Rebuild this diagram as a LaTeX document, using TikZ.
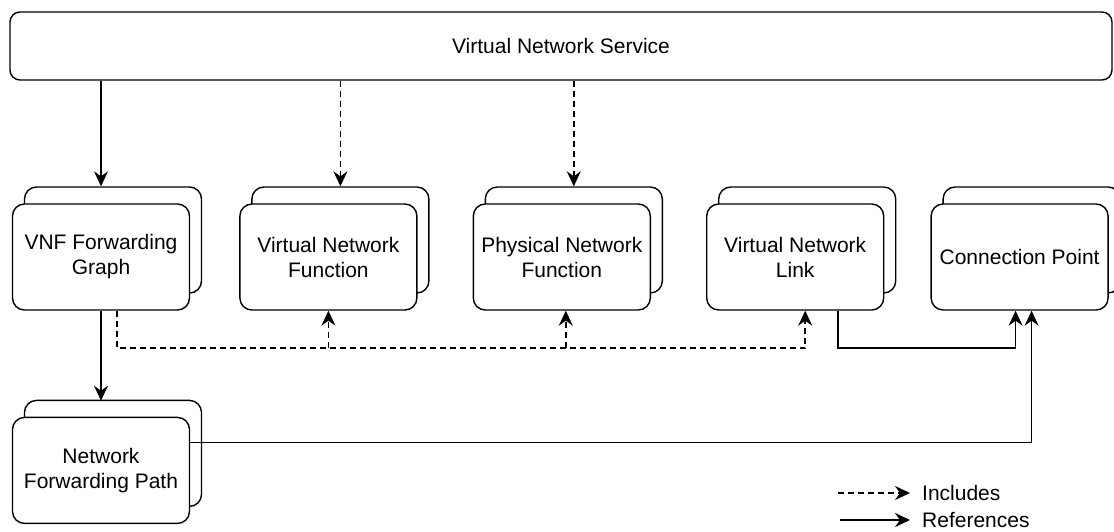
\documentclass[tikz,border=0pt]{standalone}
\usepackage{fontspec}
\setmainfont{Liberation Sans}
\usetikzlibrary{positioning,calc,shadows,arrows.meta}

\tikzset{
	stackbox/.style={draw, line width=1.4pt, rounded corners=12pt, fill=white, minimum width=177pt, minimum height=106pt, inner sep=3pt, align=center, copy shadow={shadow xshift=12pt, shadow yshift=17pt, line width=1.4pt}},
	includes/.style={-{Stealth[length=15pt,width=14pt,inset=5pt]}, line width=1.5pt, dash pattern=on 6pt off 4pt},
	references/.style={-{Stealth[length=15pt,width=14pt,inset=5pt]}, line width=1.5pt},
}

\begin{document}
\begin{tikzpicture}[x=1pt, y=1pt, font=\fontsize{21}{25}\selectfont]
		\useasboundingbox (0,0) rectangle (1114,-531);
		
		\node[draw, line width=1.4pt, rounded corners=10pt, minimum width=1102pt, minimum height=68pt] (vns) at (561,-46) {Virtual Network Service};
		
		\node[stackbox] (vnffg) at (101,-257) {VNF Forwarding\\Graph};
		\node[stackbox, right=49pt of vnffg] (vnf) {Virtual Network\\Function};
		\node[stackbox, right=55pt of vnf] (pnf) {Physical Network\\Function};
		\node[stackbox, right=55pt of pnf] (vnl) {Virtual Network\\Link};
		\node[stackbox, right=46pt of vnl] (cp) {Connection Point};
		\node[stackbox, below=106pt of vnffg] (nfp) {Network\\Forwarding Path};
		
		\coordinate (vnftop) at ($(vnf.north)+(12,17)$);
		\coordinate (pnftop) at ($(pnf.north)+(12,17)$);
		\coordinate (vnlin) at ($(vnl.south)+(10,0)$);
		\coordinate (vnlout) at ($(vnl.south)+(43,0)$);
		\coordinate (cpin1) at ($(cp.south)+(-4,0)$);
		\coordinate (cpin2) at ($(cp.south)+(12,0)$);
		\coordinate (bus) at (0,-348);
		
		\draw[references] (vns.south -| vnffg.north) -- ([yshift=17pt]vnffg.north);
		\draw[includes] (vns.south -| vnftop) -- (vnftop);
		\draw[includes] (vns.south -| pnftop) -- (pnftop);
		
		\draw[references] (vnffg.south) -- ([yshift=16pt]nfp.north);
		\draw[includes] ([xshift=16pt]vnffg.south) |- (vnlin |- bus) -- (vnlin);
		\draw[includes] (vnf.south |- bus) -- (vnf.south);
		\draw[includes] ([xshift=4pt]pnf.south |- bus) -- ([xshift=4pt]pnf.south);
		
		\draw[references] (vnlout) |- (cpin1 |- bus) -- (cpin1);
		\draw[references] ([yshift=28pt]nfp.east) -| (cpin2);
		
		% legend
		\node[anchor=west, inner xsep=12pt] (inc) at (910,-493) {Includes};
		\node[anchor=west, inner xsep=12pt] (ref) at (910,-520) {References};
		\coordinate (incfrom) at (838,-493);
		\coordinate (reffrom) at (840,-520);
		\draw[includes] (incfrom) -- (inc.west);
		\draw[references] (reffrom) -- (ref.west);
	\end{tikzpicture}
\end{document}
